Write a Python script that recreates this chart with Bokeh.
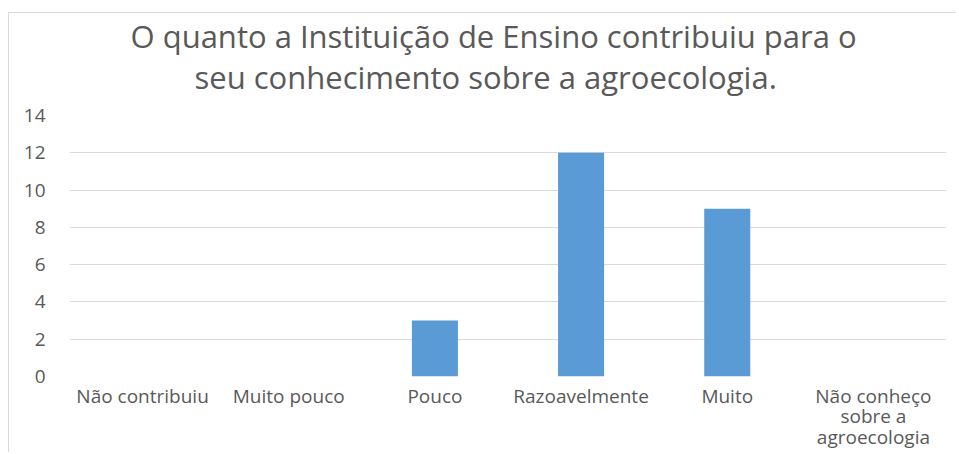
from bokeh.plotting import figure
from bokeh.models import Title, ColumnDataSource, Range1d, FixedTicker
from bokeh.embed import file_html
from bokeh.resources import INLINE

categories = ["Não contribuiu", "Muito pouco", "Pouco", "Razoavelmente", "Muito",
              "Não conheço\nsobre a\nagroecologia"]
values = [0, 0, 3, 12, 9, 0]
y_ticks = [0, 2, 4, 6, 8, 10, 12, 14]
title_lines = ["O quanto a Instituição de Ensino contribuiu para o",
               "seu conhecimento sobre a agroecologia."]

FONT = "Open Sans"
GRAY = "#595959"

source = ColumnDataSource(data=dict(cat=categories, val=values))

p = figure(x_range=categories, y_range=Range1d(0, 14), width=948, height=440,
           output_backend="svg", toolbar_location=None,
           min_border_left=60, min_border_right=11, min_border_top=102, min_border_bottom=76)

p.vbar(x="cat", top="val", width=0.315, source=source, fill_color="#5b9bd5", line_color=None)

p.outline_line_color = None
p.xgrid.grid_line_color = None
p.ygrid.grid_line_color = "#d9d9d9"
p.ygrid.grid_line_width = 1

p.yaxis.ticker = FixedTicker(ticks=y_ticks)
for ax in (p.xaxis, p.yaxis):
    ax.axis_line_color = None
    ax.major_tick_line_color = None
    ax.minor_tick_line_color = None
    ax.major_label_text_color = GRAY
    ax.major_label_text_font = FONT
    ax.major_label_text_font_size = "19px"
p.xaxis.major_label_text_line_height = 0.8
p.yaxis.major_label_standoff = 18
p.xaxis.major_label_standoff = 0

# title: second line closest to the plot, first line above it
p.add_layout(Title(text=title_lines[1], align="left", offset=125, text_font=FONT,
                   text_font_size="31px", text_color=GRAY, text_font_style="normal",
                   standoff=36), "above")
p.add_layout(Title(text=title_lines[0], align="left", offset=61, text_font=FONT,
                   text_font_size="31px", text_color=GRAY, text_font_style="normal",
                   standoff=-43), "above")

p.styles = {"border-top": "1px solid #d9d9d9", "border-left": "1px solid #d9d9d9",
            "margin-top": "12px", "margin-left": "8px"}

open("out.html", "w").write(file_html(p, INLINE))
